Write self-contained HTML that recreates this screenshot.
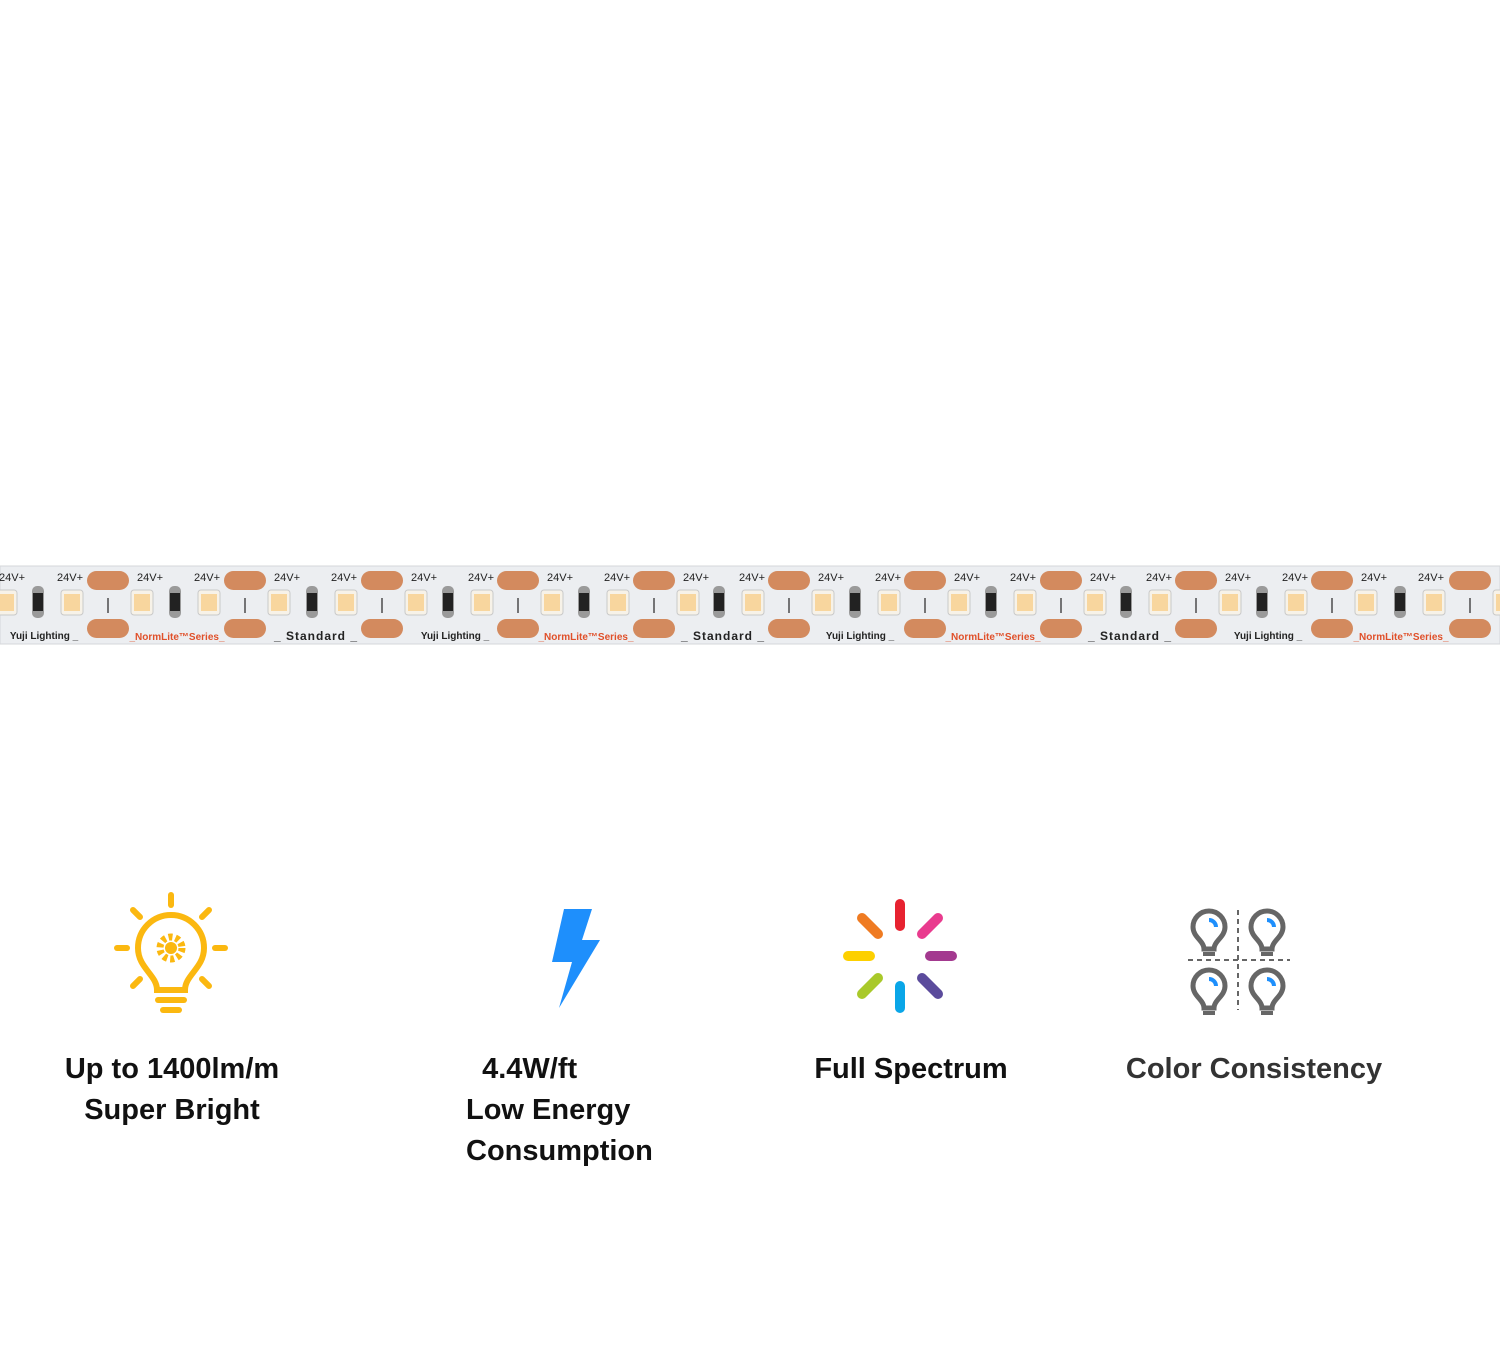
<!DOCTYPE html>
<html><head><meta charset="utf-8"><style>
body{margin:0;width:1500px;height:1360px;background:#fff;overflow:hidden;position:relative;font-family:"Liberation Sans",sans-serif}
.t{position:absolute;font-weight:bold;font-size:29px;color:#111;text-align:center;line-height:41px}
</style></head><body>
<svg width="1500" height="1360" style="position:absolute;left:0;top:0" xmlns="http://www.w3.org/2000/svg">
<defs>
<g id="seg">
<rect x="-21" y="571" width="42" height="19" rx="9.5" fill="#d38a5e"/>
<rect x="-21" y="619" width="42" height="19" rx="9.5" fill="#d38a5e"/>
<rect x="-47" y="590" width="22" height="25" rx="3" fill="#f7f2e8" stroke="#c9c9c9"/>
<rect x="-44" y="594" width="16" height="17" fill="#f8d69e"/>
<rect x="23" y="590" width="22" height="25" rx="3" fill="#f7f2e8" stroke="#c9c9c9"/>
<rect x="26" y="594" width="16" height="17" fill="#f8d69e"/>
<rect x="-76" y="586" width="12" height="32" rx="5" fill="#9a9a9a"/>
<rect x="-75" y="593" width="10" height="18" fill="#222"/>
<line x1="0" y1="598" x2="0" y2="613" stroke="#333" stroke-width="1.3"/>
</g>
</defs>
<rect x="0" y="566" width="1500" height="78" fill="#eceef1" stroke="#d5d7da"/>
<use href="#seg" x="-28"/><use href="#seg" x="108"/><use href="#seg" x="245"/><use href="#seg" x="382"/><use href="#seg" x="518"/><use href="#seg" x="654"/><use href="#seg" x="789"/><use href="#seg" x="925"/><use href="#seg" x="1061"/><use href="#seg" x="1196"/><use href="#seg" x="1332"/><use href="#seg" x="1470"/>
<g font-family="Liberation Sans,sans-serif" font-size="11" fill="#222" text-anchor="middle">
<text x="12" y="581">24V+</text><text x="70" y="581">24V+</text><text x="150" y="581">24V+</text><text x="207" y="581">24V+</text><text x="287" y="581">24V+</text><text x="344" y="581">24V+</text><text x="424" y="581">24V+</text><text x="481" y="581">24V+</text><text x="560" y="581">24V+</text><text x="617" y="581">24V+</text><text x="696" y="581">24V+</text><text x="752" y="581">24V+</text><text x="831" y="581">24V+</text><text x="888" y="581">24V+</text><text x="967" y="581">24V+</text><text x="1023" y="581">24V+</text><text x="1103" y="581">24V+</text><text x="1159" y="581">24V+</text><text x="1238" y="581">24V+</text><text x="1295" y="581">24V+</text><text x="1374" y="581">24V+</text><text x="1431" y="581">24V+</text>
</g>
<g font-family="Liberation Sans,sans-serif" font-weight="bold" text-anchor="middle">
<text x="44" y="639" font-size="10" fill="#222">Yuji Lighting _</text>
<text x="177" y="640" font-size="10" fill="#e0502a">_NormLite™Series_</text>
<text x="316" y="640" font-size="12" fill="#222" letter-spacing="1">_ Standard _</text>
<text x="455" y="639" font-size="10" fill="#222">Yuji Lighting _</text>
<text x="586" y="640" font-size="10" fill="#e0502a">_NormLite™Series_</text>
<text x="723" y="640" font-size="12" fill="#222" letter-spacing="1">_ Standard _</text>
<text x="860" y="639" font-size="10" fill="#222">Yuji Lighting _</text>
<text x="993" y="640" font-size="10" fill="#e0502a">_NormLite™Series_</text>
<text x="1130" y="640" font-size="12" fill="#222" letter-spacing="1">_ Standard _</text>
<text x="1268" y="639" font-size="10" fill="#222">Yuji Lighting _</text>
<text x="1401" y="640" font-size="10" fill="#e0502a">_NormLite™Series_</text>
</g>
<!-- bulb icon -->
<g stroke="#fbb810" stroke-width="6" stroke-linecap="round" fill="none">
<line x1="171" y1="895" x2="171" y2="905"/><line x1="117" y1="948" x2="127" y2="948"/><line x1="215" y1="948" x2="225" y2="948"/>
<line x1="133" y1="910" x2="140" y2="917"/><line x1="209" y1="910" x2="202" y2="917"/>
<line x1="133" y1="986" x2="140" y2="979"/><line x1="209" y1="986" x2="202" y2="979"/>
<path d="M157 990 C157 975 138 968 138 948 A33 33 0 1 1 204 948 C204 968 185 975 185 990 Z"/>
<line x1="158" y1="1000" x2="184" y2="1000"/><line x1="163" y1="1010" x2="179" y2="1010"/>
</g>
<circle cx="171" cy="948" r="11" fill="none" stroke="#fbb810" stroke-width="7" stroke-dasharray="4 3"/>
<circle cx="171" cy="948" r="6" fill="#fbb810"/>
<!-- lightning -->
<polygon points="564,909 592,909 582,940 600,940 559,1008 572,962 552,962" fill="#1e8ffc"/>
<!-- spectrum -->
<g stroke-width="10" stroke-linecap="round">
<line x1="900" y1="904" x2="900" y2="926" stroke="#e72230"/>
<line x1="938" y1="918" x2="922" y2="934" stroke="#e93b8e"/>
<line x1="952" y1="956" x2="930" y2="956" stroke="#a3398f"/>
<line x1="938" y1="994" x2="922" y2="978" stroke="#5b4b9c"/>
<line x1="900" y1="1008" x2="900" y2="986" stroke="#0aa6e8"/>
<line x1="862" y1="994" x2="878" y2="978" stroke="#a9c92a"/>
<line x1="848" y1="956" x2="870" y2="956" stroke="#fdd000"/>
<line x1="862" y1="918" x2="878" y2="934" stroke="#ef7b22"/>
</g>
<!-- color consistency -->
<g stroke="#666" stroke-width="2" stroke-dasharray="5 4"><line x1="1238" y1="910" x2="1238" y2="1010"/><line x1="1188" y1="960" x2="1290" y2="960"/></g>
<defs><g id="lb"><path d="M-5 22 C-5 14 -16 10 -16 0 A16 16 0 1 1 16 0 C16 10 5 14 5 22 Z" fill="#fff" stroke="#666" stroke-width="5"/><line x1="-6" y1="27" x2="6" y2="27" stroke="#666" stroke-width="4"/><path d="M0 -7 A7 7 0 0 1 7 0" fill="none" stroke="#1e8ffc" stroke-width="4"/></g></defs>
<use href="#lb" x="1209" y="927"/><use href="#lb" x="1267" y="927"/><use href="#lb" x="1209" y="986"/><use href="#lb" x="1267" y="986"/>
</svg>
<div class="t" style="left:22px;top:1049px;width:300px">Up to 1400lm/m<br>Super Bright</div>
<div class="t" style="left:400px;top:1049px;width:300px;text-align:left;padding-left:66px;box-sizing:border-box">&nbsp;&nbsp;4.4W/ft<br>Low Energy<br>Consumption</div>
<div class="t" style="left:761px;top:1049px;width:300px">Full Spectrum</div>
<div class="t" style="left:1104px;top:1049px;width:300px;color:#333">Color Consistency</div>
</body></html>
